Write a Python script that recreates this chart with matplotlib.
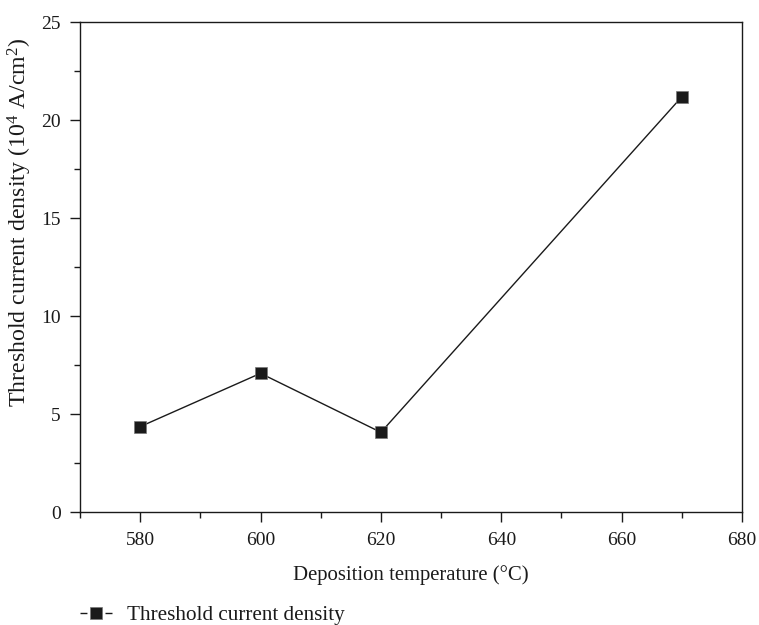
import matplotlib
matplotlib.use("Agg")
import matplotlib.pyplot as plt
from matplotlib.ticker import MultipleLocator
from matplotlib.lines import Line2D

temperature = [580, 600, 620, 670]
density = [4.37, 7.09, 4.08, 21.2]
series_label = "Threshold current density"
x_label = "Deposition temperature (°C)"
y_label = "Threshold current density (10$^4$ A/cm$^2$)"

plt.rcParams['font.family'] = ['Liberation Serif', 'DejaVu Serif']
plt.rcParams['mathtext.fontset'] = 'custom'
plt.rcParams['mathtext.rm'] = 'Liberation Serif'
plt.rcParams['mathtext.it'] = 'Liberation Serif:italic'

W, H = 759, 625
fig = plt.figure(figsize=(W/100, H/100), dpi=100)
L, R, T, B = 80, 742, 22.3, 512.3
ax = fig.add_axes([L/W, 1-B/H, (R-L)/W, (B-T)/H])

ink = '#1a1a1a'
line, = ax.plot(temperature, density, color=ink, lw=1.0, marker='s',
                markersize=8, markerfacecolor=ink, markeredgecolor='#777777',
                markeredgewidth=0.5, label=series_label)

ax.set_xlim(570, 680)
ax.set_ylim(0, 25)
ax.xaxis.set_major_locator(MultipleLocator(20))
ax.xaxis.set_minor_locator(MultipleLocator(10))
ax.yaxis.set_major_locator(MultipleLocator(5))
ax.yaxis.set_minor_locator(MultipleLocator(2.5))
ax.tick_params(axis='both', which='major', direction='out', length=7.5, width=1,
               labelsize=14, color=ink, labelcolor=ink, pad=6.5)
ax.tick_params(axis='both', which='minor', direction='out', length=4.5, width=1, color=ink)
for s in ax.spines.values():
    s.set_linewidth(1.0)
    s.set_color(ink)

xl = ax.set_xlabel(x_label, fontsize=15, color=ink, va='baseline')
ax.xaxis.set_label_coords(0.5, (B-580)/(B-T))
yl = ax.set_ylabel(y_label, fontsize=15, color=ink)
ax.yaxis.set_label_coords((34-L)/(R-L), (B-222)/(B-T))

handle = Line2D([], [], color=ink, lw=1.0, linestyle=(0, (5, 13, 5, 0)),
                marker='s', markersize=8, markerfacecolor=ink,
                markeredgecolor='#777777', markeredgewidth=0.5)
leg = fig.legend(handles=[handle], labels=[series_label], loc='center left',
                 bbox_to_anchor=(L/W, 1-615/H), frameon=False, fontsize=15,
                 borderpad=0, borderaxespad=0,
                 handlelength=1.53, handletextpad=0.72, labelcolor=ink)


def fit_width(text, target, vertical=False):
    fig.canvas.draw()
    bb = text.get_window_extent(fig.canvas.get_renderer())
    cur = bb.height if vertical else bb.width
    return text.get_fontsize() * target / cur


xl.set_fontsize(fit_width(xl, 238))
yl.set_fontsize(fit_width(yl, 370, vertical=True))
lt = leg.get_texts()[0]
lt.set_fontsize(fit_width(lt, 218))

fig.savefig("out.png", dpi=100)
